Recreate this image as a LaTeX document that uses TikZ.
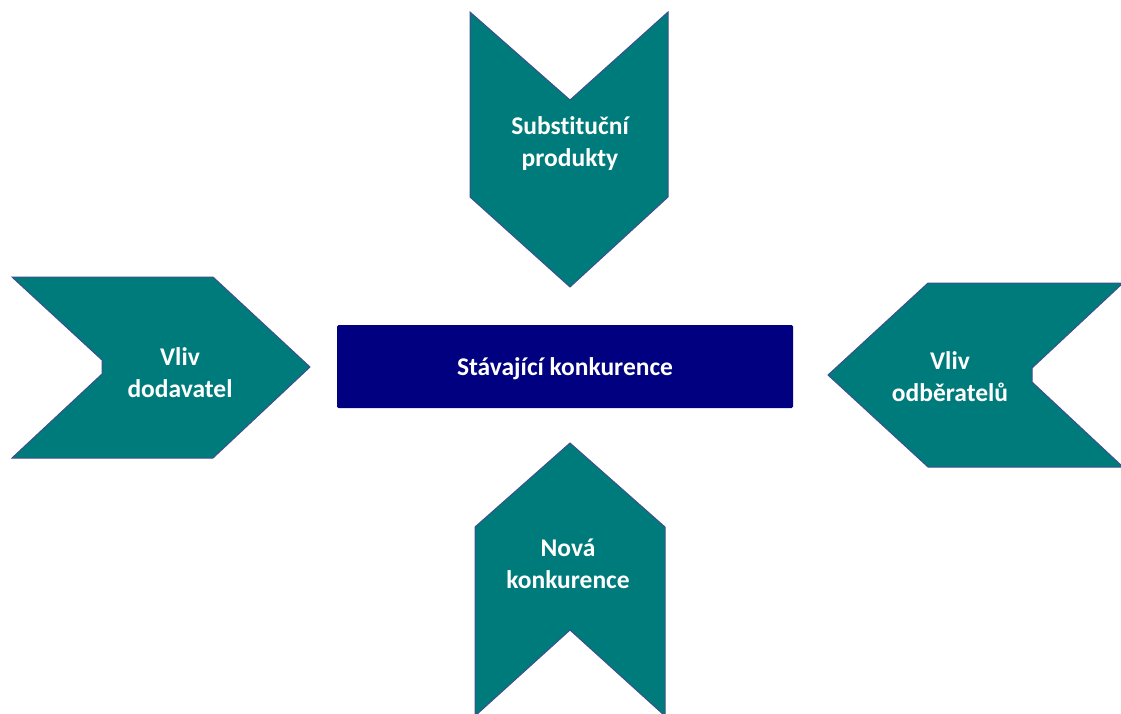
\documentclass[tikz,border=0pt]{standalone}
\usepackage{fontspec}
\setmainfont[Ligatures=NoCommon]{Carlito}
\definecolor{tealfill}{HTML}{007B7B}
\definecolor{edgeblue}{HTML}{3C4F8E}
\definecolor{navyfill}{HTML}{000080}
\begin{document}
\begin{tikzpicture}[x=1pt,y=-1pt,
  chev/.style={fill=tealfill,draw=edgeblue,line width=1pt,line join=miter},
  lbl/.style={text=white,font=\fontsize{25.5}{32}\selectfont\bfseries,align=center,inner sep=0pt},
  core/.style={fill=navyfill,draw=none,rounded corners=1.5pt}]
\useasboundingbox (0,0) rectangle (1121,713);
% top chevron
\draw[chev] (470,12) -- (570,100) -- (668,12) -- (668,197) -- (570,287) -- (470,197) -- cycle;
% left chevron
\draw[chev] (12,277) -- (213,277) -- (310,367) -- (213,458) -- (12,458) -- (102,374) -- (102,360) -- cycle;
% right chevron
\draw[chev] (1123,283) -- (928,283) -- (828,375) -- (928,467) -- (1123,467) -- (1032,382) -- (1032,368) -- cycle;
% bottom chevron
\draw[chev] (570,443) -- (665,527) -- (665,716) -- (570,630) -- (475,716) -- (475,527) -- cycle;
% centre box
\fill[core] (337,325) rectangle (793,408);
\node[lbl] (core) at (565,369) {Stávající konkurence};
\node[lbl] (subst) at (570,144) {Substituční\\produkty};
\node[lbl] (supp) at (180,373) {Vliv\\dodavatel};
\node[lbl] (buy) at (950,377) {Vliv\\odběratelů};
\node[lbl] (newc) at (568,564) {Nová\\konkurence};
\end{tikzpicture}
\end{document}
